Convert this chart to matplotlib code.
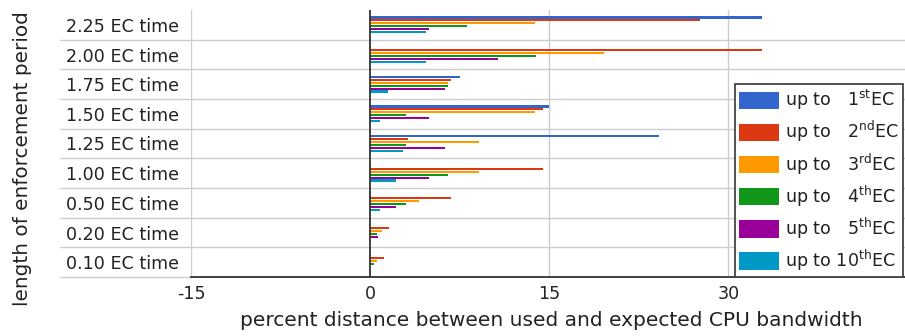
import matplotlib.pyplot as plt
import numpy as np
from matplotlib.patches import Patch

plt.rcParams['font.family'] = 'DejaVu Sans'
plt.rcParams['mathtext.fontset'] = 'dejavusans'

periods = ["0.10 EC time", "0.20 EC time", "0.50 EC time", "1.00 EC time",
           "1.25 EC time", "1.50 EC time", "1.75 EC time", "2.00 EC time",
           "2.25 EC time"]

# percent distance per period (bottom to top), one list per EC horizon
ec1 = [-0.1, -0.1, -0.1, -0.1, 24.2, 15.0, 7.5, -0.1, 32.8]
ec2 = [1.2, 1.55, 6.75, 14.5, 3.15, 14.5, 6.75, 32.8, 27.6]
ec3 = [0.55, 1.0, 4.1, 9.1, 9.1, 13.8, 6.5, 19.6, 13.8]
ec4 = [0.3, 0.55, 3.0, 6.5, 3.0, 3.0, 6.5, 13.9, 8.1]
ec5 = [0.0, 0.7, 2.2, 4.9, 6.25, 4.9, 6.25, 10.7, 4.9]
ec10 = [0.0, 0.0, 0.8, 2.15, 2.75, 0.8, 1.5, 4.65, 4.65]

series = [ec1, ec2, ec3, ec4, ec5, ec10]
labels = ["up to \u20071$^{\\mathrm{st}}$EC",
          "up to \u20072$^{\\mathrm{nd}}$EC",
          "up to \u20073$^{\\mathrm{rd}}$EC",
          "up to \u20074$^{\\mathrm{th}}$EC",
          "up to \u20075$^{\\mathrm{th}}$EC",
          "up to 10$^{\\mathrm{th}}$EC"]
colors = ["#3366CC", "#DC3912", "#FF9900", "#109618", "#990099", "#0099C6"]

W, H = 905, 336
fig = plt.figure(figsize=(W / 100, H / 100), dpi=100)
ax = fig.add_axes([191 / W, 1 - 277 / H, (905 - 191) / W, (277 - 10) / H])

y = np.arange(len(periods))
offsets = [0.25, 0.15, 0.05, -0.05, -0.15, -0.25]
for vals, off, col in zip(series, offsets, colors):
    ax.barh(y + off, vals, height=0.075, color=col, zorder=3)

ax.set_xlim(-15, 44.8)
ax.set_ylim(-0.5, 8.5)

# row separators, stretched under the tick labels
for b in np.arange(0.5, 8.0, 1.0):
    ax.axhline(b, xmin=-0.1835, xmax=1, color="#cccccc", lw=1,
               clip_on=False, zorder=1)
ax.axhline(-0.5, xmin=-0.1835, xmax=0, color="#cccccc", lw=1,
           clip_on=False, zorder=1)
for xv in [-15, 15, 30]:
    ax.axvline(xv, color="#cccccc", lw=1, zorder=1)
ax.axvline(0, color="#333333", lw=1.3, zorder=4)

for s in ["top", "right", "left"]:
    ax.spines[s].set_visible(False)
ax.spines["bottom"].set_color("#333333")
ax.spines["bottom"].set_linewidth(1.3)

ax.set_xticks([-15, 0, 15, 30])
ax.set_xticklabels(["-15", "0", "15", "30"])
ax.set_yticks(y)
ax.set_yticklabels(periods)
ax.tick_params(length=0, labelsize=12.6, colors="#222222")
ax.tick_params(axis="x", pad=6)
ax.tick_params(axis="y", pad=9)

fig.text(551 / W, 1 - 321 / H,
         "percent distance between used and expected CPU bandwidth",
         ha="center", va="center", fontsize=14.5, color="#222222")
fig.text(23 / W, 1 - 159 / H, "length of enforcement period",
         ha="center", va="center", rotation=90, fontsize=14.4,
         color="#222222")

handles = [Patch(facecolor=c) for c in colors]
leg = fig.legend(handles, labels, loc="lower left",
                 bbox_to_anchor=(735 / W, 1 - 277 / H), borderaxespad=0,
                 fontsize=12.6, handlelength=2.3, handleheight=1.15,
                 handletextpad=0.35, borderpad=0.22, labelspacing=0.4,
                 fancybox=False, framealpha=1)
leg.get_frame().set_edgecolor("#444444")
leg.get_frame().set_linewidth(1.3)
for t in leg.get_texts():
    t.set_color("#222222")

fig.savefig("out.png", dpi=100)
